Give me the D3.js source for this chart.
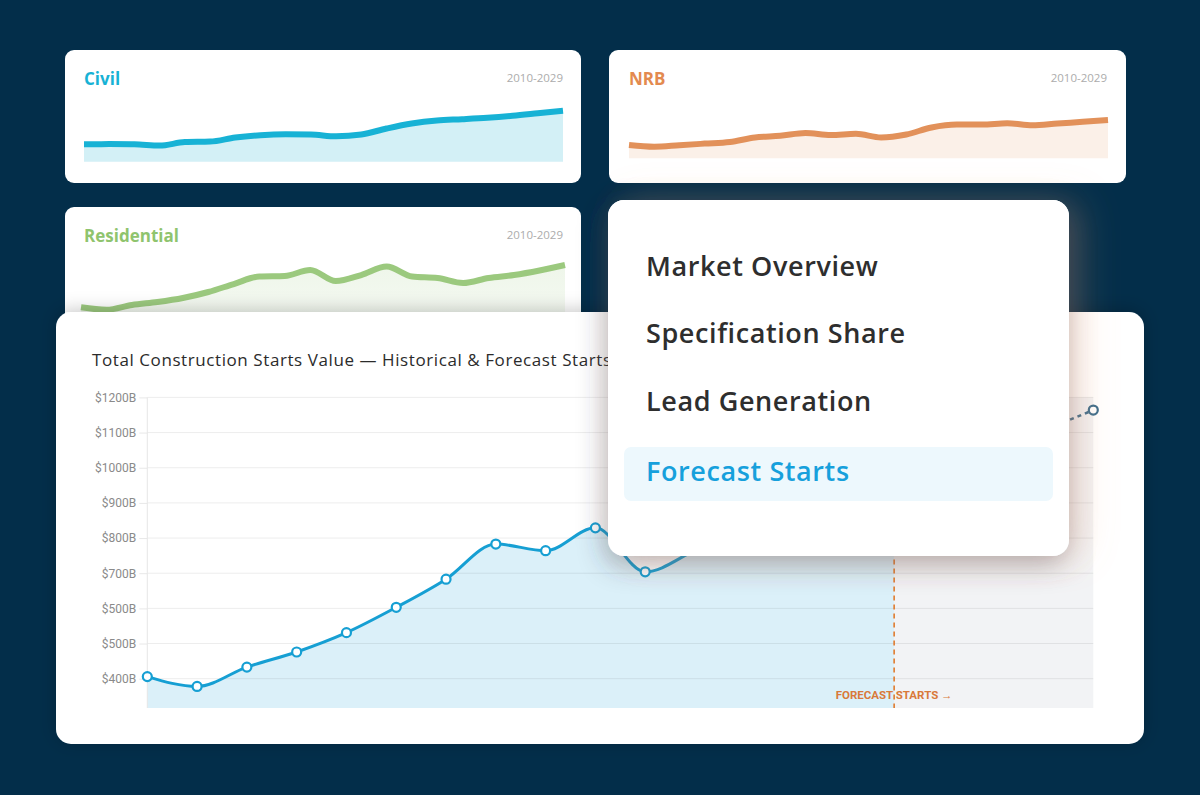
<!DOCTYPE html>
<html><head><meta charset="utf-8">
<script src="https://cdn.jsdelivr.net/npm/d3@7"></script>
<style>
html,body{margin:0;padding:0;background:#032e4a;}
svg{display:block;}
</style></head>
<body>
<svg id="c" width="1200" height="795"></svg>
<script>
// ---------- DATA ----------
const years = [2010,2011,2012,2013,2014,2015,2016,2017,2018,2019,2020,2021,2022,2023,2024,2025,2026,2027,2028,2029];
const civilValues = [29.0,29.3,29.0,26.8,32.7,33.5,40.3,44.2,45.7,45.3,42.3,45.3,55.3,63.7,68.7,70.8,73.2,76.5,80.7,85.0];
const nrbValues = [22.2,19.3,21.8,24.5,27.2,34.7,37.5,42.2,38.8,40.8,34.7,39.7,51.3,56.2,56.2,58.5,55.0,58.0,60.8,63.8];
const residentialValues = [19.5,15.3,23.3,28.3,35.0,45.0,58.3,70.8,71.7,81.7,63.3,73.3,87.5,70.8,68.3,60.0,68.3,73.3,80.8,90.0];
const startsValues = [406,378,433,476,531,603,683,783,764,829,704,765,830,880,930,985,1030,1065,1108,1164];
const forecastStartYear = 2025;
const yTickValues = [400,500,600,700,800,900,1000,1100,1200];
const yTickLabels = ["$400B","$500B","$500B","$700B","$800B","$900B","$1000B","$1100B","$1200B"];
const sparkRangeLabel = "2010-2029";
const chartTitle = "Total Construction Starts Value \u2014 Historical & Forecast Starts";
const forecastLabel = "FORECAST STARTS \u2192";
const menuItems = ["Market Overview","Specification Share","Lead Generation","Forecast Starts"];
const activeMenuItem = "Forecast Starts";

// ---------- DRAW ----------
const svg = d3.select("#c");
const defs = svg.append("defs");
const FONT = "'Open Sans', 'Noto Sans', sans-serif";

const cardShadow = defs.append("filter").attr("id","cardShadow").attr("x","-10%").attr("y","-20%").attr("width","120%").attr("height","140%");
cardShadow.append("feDropShadow").attr("dx",0).attr("dy",-2).attr("stdDeviation",9).attr("flood-color","#000").attr("flood-opacity",0.22);

const menuShadow = defs.append("filter").attr("id","menuShadow").attr("x","-30%").attr("y","-30%").attr("width","160%").attr("height","160%");
menuShadow.append("feDropShadow").attr("in","SourceGraphic").attr("dx",-2).attr("dy",8).attr("stdDeviation",14).attr("flood-color","#1b3448").attr("flood-opacity",0.42).attr("result","s1");
menuShadow.append("feDropShadow").attr("in","SourceGraphic").attr("dx",14).attr("dy",0).attr("stdDeviation",18).attr("flood-color","#f2a47a").attr("flood-opacity",0.22).attr("result","s2");
const mm = menuShadow.append("feMerge");
mm.append("feMergeNode").attr("in","s2");
mm.append("feMergeNode").attr("in","s1");

const resGrad = defs.append("linearGradient").attr("id","resGrad").attr("x1",0).attr("y1",0).attr("x2",0).attr("y2",1);
resGrad.append("stop").attr("offset","0%").attr("stop-color","#97c67a").attr("stop-opacity",0.16);
resGrad.append("stop").attr("offset","100%").attr("stop-color","#97c67a").attr("stop-opacity",0.10);

function sparkCard(cfg){
  const g = svg.append("g");
  g.append("rect").attr("x",cfg.x).attr("y",cfg.y).attr("width",cfg.w).attr("height",cfg.h)
    .attr("rx",9).attr("fill","#fff");
  g.append("text").attr("x",cfg.tx).attr("y",cfg.ty).text(cfg.title)
    .attr("fill",cfg.color).style("font-family",FONT).style("font-weight",700).style("font-size","17px");
  g.append("text").attr("x",cfg.rx).attr("y",cfg.ry).attr("text-anchor","end").text(sparkRangeLabel)
    .attr("fill","#acacac").style("font-family",FONT).style("font-size","11.5px");
  const x = d3.scalePoint().domain(years).range([cfg.lx0,cfg.lx1]);
  const y = d3.scaleLinear().domain([0,100]).range([cfg.base,cfg.base-60]);
  const area = d3.area().x((d,i)=>x(years[i])).y0(cfg.base).y1(d=>y(d)).curve(d3.curveMonotoneX);
  const line = d3.line().x((d,i)=>x(years[i])).y(d=>y(d)).curve(d3.curveMonotoneX);
  g.append("path").datum(cfg.values).attr("d",area).attr("fill",cfg.fill);
  g.append("path").datum(cfg.values).attr("d",line).attr("fill","none")
    .attr("stroke",cfg.color2||cfg.color).attr("stroke-width",6).attr("stroke-linejoin","round");
}

sparkCard({x:65,y:50,w:516,h:133,tx:84,ty:85,rx:563,ry:82,title:"Civil",color:"#17b2d5",
  fill:"#d3f0f6",lx0:84,lx1:563,base:161.7,values:civilValues});
sparkCard({x:609,y:50,w:517,h:133,tx:629,ty:85,rx:1107,ry:82,title:"NRB",color:"#e38a4f",color2:"#e2915a",
  fill:"#fbf0e8",lx0:629,lx1:1108,base:158.3,values:nrbValues});
sparkCard({x:65,y:207,w:516,h:150,tx:84,ty:242,rx:563,ry:239,title:"Residential",color:"#8fc46e",color2:"#9bc97e",
  fill:"url(#resGrad)",lx0:81,lx1:565,base:319,values:residentialValues});

// main card
svg.append("rect").attr("x",56).attr("y",312).attr("width",1088).attr("height",432).attr("rx",15)
  .attr("fill","#fff").attr("filter","url(#cardShadow)");

svg.append("text").attr("x",92).attr("y",366).text(chartTitle)
  .attr("textLength",519).attr("lengthAdjust","spacing")
  .attr("fill","#2b2b2b").style("font-family",FONT).style("font-size","17px");

const plotLeft = 147.3, plotRight = 1093.3, plotTop = 397.4, plotBottom = 708;
const mx = d3.scalePoint().domain(years).range([plotLeft, plotRight]);
const my = d3.scaleLinear().domain([400,1200]).range([678.7, 397.4]);
const fx = mx(forecastStartYear);

const main = svg.append("g");
main.append("rect").attr("x",fx).attr("y",plotTop).attr("width",plotRight-fx).attr("height",plotBottom-plotTop)
  .attr("fill","#f2f3f5");

const histIdx = years.map((y,i)=>i).filter(i=>years[i]<=forecastStartYear);
const foreIdx = years.map((y,i)=>i).filter(i=>years[i]>=forecastStartYear);

const histArea = d3.area().x(i=>mx(years[i])).y0(plotBottom).y1(i=>my(startsValues[i])).curve(d3.curveMonotoneX);
main.append("path").datum(histIdx).attr("d",histArea).attr("fill","#dbf0f9");

// gridlines
main.selectAll("line.grid").data(yTickValues).join("line").attr("class","grid")
  .attr("x1",plotLeft).attr("x2",plotRight).attr("y1",d=>my(d)).attr("y2",d=>my(d))
  .attr("stroke","#000").attr("stroke-opacity",0.075).attr("stroke-width",1);

// y axis
const yAxis = d3.axisLeft(my).tickValues(yTickValues).tickFormat((d,i)=>yTickLabels[i]).tickSize(8).tickPadding(3);
const ax = main.append("g").attr("transform",`translate(${plotLeft},0)`).call(yAxis);
ax.select(".domain").remove();
ax.selectAll(".tick line").attr("stroke","#e8e8e8");
ax.selectAll(".tick text").attr("fill","#8a8a8a").style("font-family","Roboto, sans-serif").style("font-size","12px");
main.append("line").attr("x1",plotLeft).attr("x2",plotLeft).attr("y1",plotTop).attr("y2",plotBottom)
  .attr("stroke","#e6e6e6").attr("stroke-width",1);

// lines
const idxLine = d3.line().x(i=>mx(years[i])).y(i=>my(startsValues[i])).curve(d3.curveMonotoneX);
main.append("path").datum(histIdx).attr("d",idxLine).attr("fill","none")
  .attr("stroke","#169fd3").attr("stroke-width",3);
main.append("path").datum(foreIdx).attr("d",idxLine).attr("fill","none")
  .attr("stroke","#3d6d8c").attr("stroke-width",2.6).attr("stroke-dasharray","4,4");

// forecast marker
main.append("line").attr("x1",fx).attr("x2",fx).attr("y1",plotTop).attr("y2",plotBottom)
  .attr("stroke","#e07b2e").attr("stroke-width",1.6).attr("stroke-dasharray","5,4");
main.append("text").attr("x",fx).attr("y",699).attr("text-anchor","middle").text(forecastLabel)
  .attr("fill","#d9793a").style("font-family","Roboto, sans-serif").style("font-weight",700).style("font-size","11.5px");

// points
main.selectAll("circle.pt").data(years.map((y,i)=>i)).join("circle").attr("class","pt")
  .attr("cx",i=>mx(years[i])).attr("cy",i=>my(startsValues[i])).attr("r",4.5)
  .attr("fill","#fff").attr("stroke",i=>years[i]<=forecastStartYear?"#169fd3":"#3d6d8c").attr("stroke-width",2.2);

// menu card
const menu = svg.append("g");
menu.append("rect").attr("x",608).attr("y",200).attr("width",461).attr("height",356).attr("rx",16)
  .attr("fill","#fff").attr("filter","url(#menuShadow)");
menu.append("rect").attr("x",624).attr("y",447).attr("width",429).attr("height",54).attr("rx",7)
  .attr("fill","#edf8fd");
const menuBaselines = [276,343,411,481];
menu.selectAll("text.mi").data(menuItems).join("text").attr("class","mi")
  .attr("x",646).attr("y",(d,i)=>menuBaselines[i]).text(d=>d)
  .attr("fill",d=>d===activeMenuItem?"#16a0dc":"#2e2e2e")
  .style("font-family",FONT).style("font-weight",600).style("font-size","27px").style("letter-spacing","0.6px");
</script>
</body></html>
